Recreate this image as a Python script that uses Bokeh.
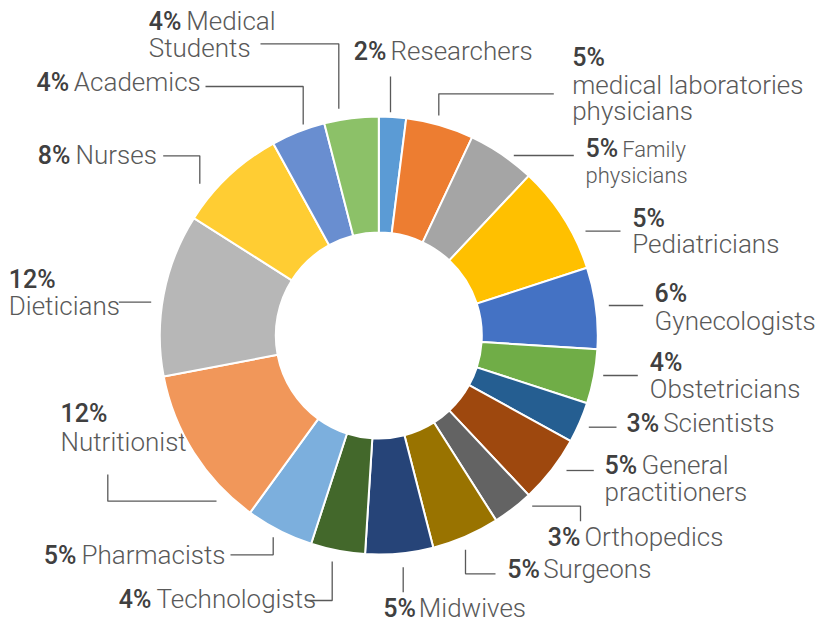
import math
from bokeh.plotting import figure
from bokeh.models import Range1d, ColumnDataSource
from bokeh.core.properties import value
from bokeh.embed import file_html
from bokeh.resources import INLINE

# ---------------- data ----------------
categories = ["Researchers", "medical laboratories physicians", "Family physicians",
              "Pediatricians", "Gynecologists", "Obstetricians", "Scientists",
              "General practitioners", "Orthopedics", "Surgeons", "Midwives",
              "Technologists", "Pharmacists", "Nutritionist", "Dieticians",
              "Nurses", "Academics", "Medical Students"]
values = [2, 5, 5, 8, 6, 4, 3, 5, 3, 5, 5, 4, 5, 12, 12, 8, 4, 4]
pct_labels = ["2%", "5%", "5%", "5%", "6%", "4%", "3%", "5%", "3%", "5%", "5%",
              "4%", "5%", "12%", "12%", "8%", "4%", "4%"]
colors = ["#5B9BD5", "#ED7D31", "#A5A5A5", "#FFC000", "#4472C4", "#70AD47",
          "#255E91", "#9E480E", "#636363", "#997300", "#264478", "#43682B",
          "#7CAFDD", "#F1975A", "#B7B7B7", "#FFCD33", "#698ED0", "#8CC168"]

# ---------------- layout (page pixel coordinates) ----------------
W, H = 817, 625
def Y(py):
    return H - py

CX, CY = 378.3, 335.0
R_OUT, R_IN = 219, 103
NAME_FONT = value("Roboto Light")
PCT_FONT = value("Roboto Medium")
PCT_SIZE = 25
TEXT_SHIFT = 0.34   # baseline correction (fraction of font size)

# (pct x, pct baseline, [(name text, x, baseline, size)], leader path)
label_layout = [
    (353.3, 59.3, [("Researchers", 390, 59.3, 26)], [(390, 76), (390, 111.7)]),
    (571.7, 65, [("medical laboratories", 571.7, 93.3, 26), ("physicians", 571.7, 119.3, 26)],
     [(553.3, 93.3), (438.3, 93.3), (438.3, 115)]),
    (585, 156, [("Family", 621.7, 156, 22), ("physicians", 585, 182.7, 22)],
     [(513.3, 155), (573.3, 155)]),
    (631.7, 226, [("Pediatricians", 631.7, 252.7, 26)], [(585, 230.7), (620, 230.7)]),
    (654, 301.7, [("Gynecologists", 654, 329.3, 26)], [(608.3, 305), (642.7, 305)]),
    (649.3, 370, [("Obstetricians", 649.3, 397.7, 26)], [(602.7, 375), (637.3, 375)]),
    (626, 431, [("Scientists", 662.7, 431, 26)], [(588.3, 426.7), (616, 426.7)]),
    (604, 473.3, [("General", 641, 473.3, 26), ("practitioners", 604, 500, 26)],
     [(566, 470), (593.3, 470)]),
    (547.3, 545, [("Orthopedics", 584, 545, 26)], [(531.7, 505.7), (580, 505.7), (580, 520.7)]),
    (506.7, 577.7, [("Surgeons", 542.7, 577.7, 26)], [(465, 549.3), (465, 573.3), (495, 573.3)]),
    (382.7, 616.5, [("Midwives", 418.3, 616.5, 26)], [(402.7, 566.7), (402.7, 591.7)]),
    (118.3, 607.3, [("Technologists", 156, 607.3, 26)], [(331.7, 561), (331.7, 600), (305, 600)]),
    (43.3, 563.3, [("Pharmacists", 81, 563.3, 26)], [(230, 554.3), (272.7, 554.3), (272.7, 536.7)]),
    (60, 421.7, [("Nutritionist", 60, 450, 26)], [(107.3, 474), (107.3, 500.7), (216, 500.7)]),
    (8.3, 287.3, [("Dieticians", 8.3, 314, 26)], [(118.3, 301.7), (150.7, 301.7)]),
    (37.3, 163.3, [("Nurses", 75, 163.3, 26)], [(162.7, 155.3), (199.3, 155.3), (199.3, 183.3)]),
    (36, 90, [("Academics", 73.3, 90, 26)], [(205, 86), (302.7, 86), (302.7, 124)]),
    (148.3, 29.3, [("Medical", 185.7, 29.3, 26), ("Students", 148.3, 56.7, 26)],
     [(260, 43.3), (338.3, 43.3), (338.3, 108.3)]),
]

p = figure(width=W, height=H, output_backend="svg", toolbar_location=None,
           x_range=Range1d(0, W), y_range=Range1d(0, H),
           x_axis_location=None, y_axis_location=None, min_border=0,
           background_fill_color="white", border_fill_color="white")
p.outline_line_color = None
p.xgrid.visible = False
p.ygrid.visible = False

# leader lines
xs, ys = [], []
for _, _, _, path in label_layout:
    xs.append([pt[0] for pt in path])
    ys.append([Y(pt[1]) for pt in path])
p.multi_line(xs=xs, ys=ys, line_color="#595959", line_width=1.3)

# percentage text
pct_src = ColumnDataSource(dict(
    x=[l[0] for l in label_layout],
    y=[Y(l[1] - TEXT_SHIFT * PCT_SIZE) for l in label_layout], text=pct_labels))
p.text(x="x", y="y", text="text", source=pct_src, text_font=PCT_FONT,
       text_font_size=f"{PCT_SIZE}px",
       text_color="#404040", text_baseline="alphabetic", text_align="left")

# name text
nx, ny, nt, ns = [], [], [], []
for _, _, parts, _ in label_layout:
    for t, x, y, s in parts:
        nx.append(x); ny.append(Y(y - TEXT_SHIFT * s)); nt.append(t); ns.append(f"{s}px")
name_src = ColumnDataSource(dict(x=nx, y=ny, text=nt, size=ns))
p.text(x="x", y="y", text="text", source=name_src, text_font=NAME_FONT, text_font_size="size",
       text_color="#595959", text_baseline="alphabetic", text_align="left")

# donut slices (drawn last so they overlap label text, as in the original)
total = float(sum(values))
starts, ends = [], []
cum = 0.0
for v in values:
    starts.append(math.pi / 2 - 2 * math.pi * cum / total)
    cum += v
    ends.append(math.pi / 2 - 2 * math.pi * cum / total)
src = ColumnDataSource(dict(start=starts, end=ends, color=colors, cat=categories, val=values))
p.annular_wedge(x=CX, y=Y(CY), inner_radius=R_IN, outer_radius=R_OUT,
                start_angle="start", end_angle="end", direction="clock",
                fill_color="color", line_color="white", line_width=2, source=src)

open("out.html", "w").write(file_html(p, INLINE))
